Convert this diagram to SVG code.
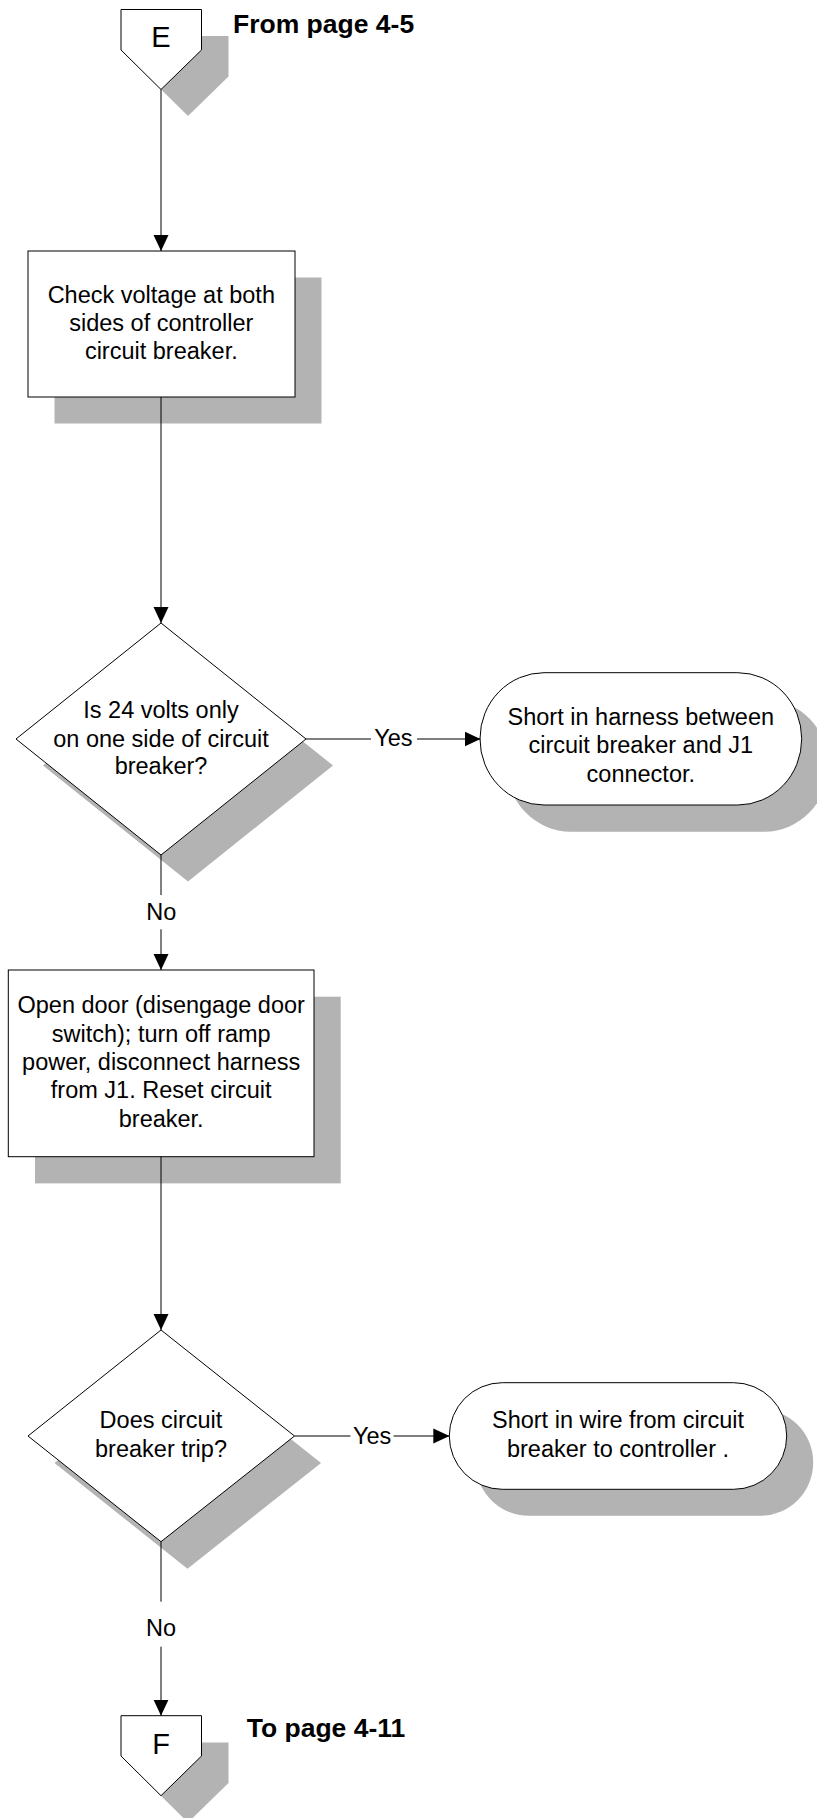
<svg xmlns="http://www.w3.org/2000/svg" width="817" height="1818" viewBox="0 0 817 1818">
  <style>
    .shadow { fill: #b3b3b3; stroke: none; }
    .shape { fill: #ffffff; stroke: #000000; stroke-width: 1; }
    .txt { font-family: "Liberation Sans", Arial, sans-serif; font-size: 23.5px; fill: #000000; text-anchor: middle; }
    .letter { font-family: "Liberation Sans", Arial, sans-serif; font-size: 29px; fill: #000000; text-anchor: middle; }
    .page { font-family: "Liberation Sans", Arial, sans-serif; font-size: 26.5px; font-weight: bold; fill: #000000; }
    .wire { fill: none; stroke: #000000; stroke-width: 1; }
  </style>
  <defs>
    <marker id="arrow" markerUnits="userSpaceOnUse" viewBox="0 0 16 16" markerWidth="16" markerHeight="16" refX="16" refY="8" orient="auto">
      <path d="M0,0.5 L16,8 L0,15.5 z" fill="#000000"/>
    </marker>
  </defs>
  <rect width="817" height="1818" fill="#ffffff"/>

  <!-- off-page connector E -->
  <g id="connector-e">
    <polygon class="shadow" points="148,36 228.5,36 228.5,76.5 188,116 148,76.5"/>
    <polygon class="shape" points="121,9.5 201.5,9.5 201.5,50 161,89.5 121,50"/>
    <text class="letter" x="161" y="46.7">E</text>
    <text class="page" x="233" y="33.3">From page 4-5</text>
  </g>

  <!-- process: check voltage -->
  <g id="check-voltage">
    <rect class="shadow" x="54.5" y="277.5" width="267" height="146"/>
    <rect class="shape" x="28" y="251" width="267" height="146"/>
    <text class="txt" x="161.3" y="302.7">Check voltage at both</text>
    <text class="txt" x="161.3" y="331">sides of controller</text>
    <text class="txt" x="161.3" y="359.3">circuit breaker.</text>
  </g>

  <!-- decision: 24 volts on one side -->
  <g id="decision-24v">
    <polygon class="shadow" points="188,649.5 333,765.5 188,881.5 43,765.5"/>
    <polygon class="shape" points="161,623 306,739 161,855 16,739"/>
    <text class="txt" x="161" y="718.3">Is 24 volts only</text>
    <text class="txt" x="161" y="746.7">on one side of circuit</text>
    <text class="txt" x="161" y="774">breaker?</text>
  </g>

  <!-- terminal: harness short -->
  <g id="harness-short">
    <rect class="shadow" x="506.7" y="699.4" width="321.7" height="132.3" rx="64" ry="66"/>
    <rect class="shape" x="480" y="672.7" width="321.7" height="132.3" rx="64" ry="66"/>
    <text class="txt" x="640.8" y="725">Short in harness between</text>
    <text class="txt" x="640.8" y="753.3">circuit breaker and J1</text>
    <text class="txt" x="640.8" y="781.7">connector.</text>
  </g>

  <!-- process: open door -->
  <g id="open-door">
    <rect class="shadow" x="35" y="996.7" width="305.7" height="186.7"/>
    <rect class="shape" x="8.3" y="970" width="305.7" height="186.7"/>
    <text class="txt" x="161.2" y="1013.3">Open door (disengage door</text>
    <text class="txt" x="161.2" y="1041.7">switch); turn off ramp</text>
    <text class="txt" x="161.2" y="1070">power, disconnect harness</text>
    <text class="txt" x="161.2" y="1098.3">from J1. Reset circuit</text>
    <text class="txt" x="161.2" y="1126.7">breaker.</text>
  </g>

  <!-- decision: breaker trips -->
  <g id="decision-trip">
    <polygon class="shadow" points="187.5,1357 321,1463 187.5,1568.7 54.5,1463"/>
    <polygon class="shape" points="161,1330 294.5,1436 161,1541.7 28,1436"/>
    <text class="txt" x="161" y="1428.3">Does circuit</text>
    <text class="txt" x="161" y="1456.7">breaker trip?</text>
  </g>

  <!-- terminal: wire short -->
  <g id="wire-short">
    <rect class="shadow" x="475.8" y="1409.2" width="337.4" height="106.6" rx="53" ry="53.3"/>
    <rect class="shape" x="449.3" y="1382.7" width="337.4" height="106.6" rx="53" ry="53.3"/>
    <text class="txt" x="618" y="1428.3">Short in wire from circuit</text>
    <text class="txt" x="618" y="1457.3">breaker to controller .</text>
  </g>

  <!-- off-page connector F -->
  <g id="connector-f">
    <polygon class="shadow" points="148,1742.5 228.5,1742.5 228.5,1783 188,1822.5 148,1783"/>
    <polygon class="shape" points="121,1715.7 201.5,1715.7 201.5,1756 161,1795.7 121,1756"/>
    <text class="letter" x="161" y="1754.3">F</text>
    <text class="page" x="246.7" y="1736.7">To page 4-11</text>
  </g>

  <!-- flow lines -->
  <g id="connectors">
    <path class="wire" d="M161,89.5 V251" marker-end="url(#arrow)"/>
    <path class="wire" d="M161,397 V623" marker-end="url(#arrow)"/>
    <path class="wire" d="M161,855 V895"/>
    <text class="txt" x="161.3" y="920">No</text>
    <path class="wire" d="M161,929.3 V970" marker-end="url(#arrow)"/>
    <path class="wire" d="M306,739 H371"/>
    <text class="txt" x="393.3" y="746">Yes</text>
    <path class="wire" d="M417,739 H480.5" marker-end="url(#arrow)"/>
    <path class="wire" d="M161,1156.7 V1330" marker-end="url(#arrow)"/>
    <path class="wire" d="M294.5,1436 H350.5"/>
    <text class="txt" x="372.2" y="1443.5">Yes</text>
    <path class="wire" d="M393.5,1436 H449.3" marker-end="url(#arrow)"/>
    <path class="wire" d="M161,1541.7 V1601.7"/>
    <text class="txt" x="161" y="1636">No</text>
    <path class="wire" d="M161,1646.7 V1715.7" marker-end="url(#arrow)"/>
  </g>
</svg>
